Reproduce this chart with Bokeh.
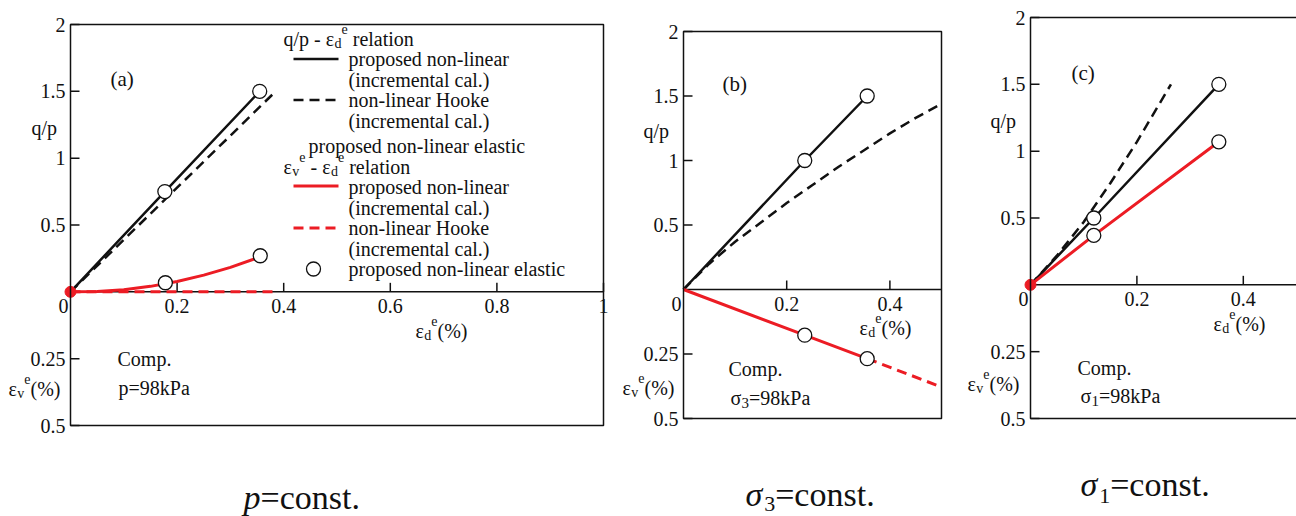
from bokeh.plotting import figure
from bokeh.layouts import row
from bokeh.models import Label, BoxAnnotation
from bokeh.embed import file_html
from bokeh.resources import INLINE

# ---------------- data ----------------
# q/p values (upper half) and eps_v^e values in % (lower half, compression positive)

# panel (a): p = const.
A_QP_PROP_X = [0.0, 0.177, 0.355]
A_QP_PROP = [0.0, 0.75, 1.50]
A_QP_HOOKE_X = [0.0, 0.385]
A_QP_HOOKE = [0.0, 1.50]
A_QP_ELAS_X = [0.177, 0.355]
A_QP_ELAS = [0.75, 1.50]
A_EV_PROP_X = [0.0, 0.05, 0.10, 0.15, 0.20, 0.25, 0.30, 0.355]
A_EV_PROP = [0.0, -0.0015, -0.008, -0.0205, -0.0385, -0.0625, -0.0915, -0.13]
A_EV_HOOKE_X = [0.0, 0.385]
A_EV_HOOKE = [0.0, 0.0]
A_EV_ELAS_X = [0.178, 0.356]
A_EV_ELAS = [-0.034, -0.135]

# panel (b): sigma3 = const.
B_QP_PROP_X = [0.0, 0.235, 0.356]
B_QP_PROP = [0.0, 1.0, 1.5]
B_QP_HOOKE_X = [0.0, 0.05, 0.10, 0.15, 0.20, 0.25, 0.30, 0.35, 0.40, 0.45, 0.50]
B_QP_HOOKE = [0.0, 0.20, 0.37, 0.52, 0.67, 0.81, 0.95, 1.08, 1.21, 1.33, 1.44]
B_QP_ELAS_X = [0.235, 0.356]
B_QP_ELAS = [1.0, 1.5]
B_EV_PROP_X = [0.0, 0.235, 0.356]
B_EV_PROP = [0.0, 0.177, 0.268]
B_EV_HOOKE_X = [0.356, 0.50]
B_EV_HOOKE = [0.268, 0.378]
B_EV_ELAS_X = [0.235, 0.356]
B_EV_ELAS = [0.177, 0.268]

# panel (c): sigma1 = const.
C_QP_PROP_X = [0.0, 0.119, 0.354]
C_QP_PROP = [0.0, 0.5, 1.5]
C_QP_HOOKE_X = [0.0, 0.05, 0.10, 0.15, 0.20, 0.264]
C_QP_HOOKE = [0.0, 0.22, 0.47, 0.76, 1.07, 1.50]
C_QP_ELAS_X = [0.119, 0.354]
C_QP_ELAS = [0.5, 1.5]
C_EV_PROP_X = [0.0, 0.119, 0.354]
C_EV_PROP = [0.0, -0.185, -0.535]
C_EV_ELAS_X = [0.119, 0.354]
C_EV_ELAS = [-0.185, -0.535]

ORIGIN_X = [0.0]
ORIGIN_EV = [0.0]

# axis ticks
X_TICKS_A = [0.2, 0.4, 0.6, 0.8, 1.0]
X_TICKS_BC = [0.2, 0.4]
QP_TICKS = [0.5, 1.0, 1.5, 2.0]
EV_TICKS = [0.25, 0.5]
EV_SCALE = 2.0   # 0.25 % of eps_v takes the height of 0.5 of q/p (drawn downward)

FONT = "Liberation Serif"
BLACK = "#111111"
RED = "#ec1c24"
H = 516
NB = "\u00a0"

CW = {' ': .25, NB: .25, '(': .333, ')': .333, '%': .833, '-': .333, '.': .25, '/': .278,
      '=': .564, 'C': .667, 'H': .722, 'P': .556, 'a': .444, 'b': .5, 'c': .444,
      'd': .5, 'e': .444, 'i': .278, 'k': .5, 'l': .278, 'm': .778, 'n': .5, 'o': .5,
      'p': .5, 'q': .5, 'r': .333, 's': .389, 't': .278, 'v': .5, 'ε': .44, 'σ': .55}


def ev(vals):
    return [-EV_SCALE * v for v in vals]


def text_w(s, size):
    return sum(CW.get(ch, 0.5) for ch in s) * size


def N(t, size=20, style="normal"):
    return (t, size, 0, style)


def SUB(t, size=14, dy=-5):
    return (t, size, dy, "normal")


def SUP(t, size=14, dy=10):
    return (t, size, dy, "normal")


def lab(p, x, y, text, size=20, align="left", baseline="middle", xo=0, yo=0, style="normal"):
    p.add_layout(Label(x=x, y=y, x_offset=xo, y_offset=yo, text=text, text_font=FONT,
                       text_font_size=f"{size}px", text_font_style=style, text_color=BLACK,
                       text_align=align, text_baseline=baseline))


def make_panel(fig_x, width, box_l, box_r, box_t, box_b, xmax, x_ticks, right_border=True):
    ppx = (box_r - box_l) / xmax
    ppy = (box_b - box_t) / 3.0
    xr = ((fig_x - box_l) / ppx, (fig_x + width - box_l) / ppx)
    yr = (2 - (H - box_t) / ppy, 2 + box_t / ppy)
    p = figure(width=width, height=H, x_range=xr, y_range=yr,
               min_border=0, x_axis_location=None, y_axis_location=None,
               toolbar_location=None, output_backend="svg")
    p.outline_line_color = None
    p.grid.visible = False
    p.background_fill_color = "white"
    p.border_fill_color = "white"

    def conv(px, py):
        return (px - box_l) / ppx, 2 - (py - box_t) / ppy

    tick_x = 9 / ppx
    tick_y = 9 / ppy
    # frame box (its left edge is the vertical axis)
    right = xmax if right_border else xmax * 1.05
    p.add_layout(BoxAnnotation(left=0, right=right, bottom=-1, top=2, fill_color=None,
                               line_color=BLACK, line_alpha=1.0, line_width=1.5))
    # horizontal axis at y = 0
    p.line([0, xmax], [0, 0], line_color=BLACK, line_width=1.5)
    # vertical-axis ticks and labels
    y_pos = [-EV_SCALE * v for v in EV_TICKS] + QP_TICKS
    y_txt = [f"{v:g}" for v in EV_TICKS] + [f"{v:g}" for v in QP_TICKS]
    p.segment(x0=[0] * len(y_pos), y0=y_pos, x1=[tick_x] * len(y_pos), y1=y_pos,
              line_color=BLACK, line_width=1.5)
    for yv, t in zip(y_pos, y_txt):
        lab(p, 0, yv, t, align="right", xo=-5)
    # horizontal-axis ticks and labels
    p.segment(x0=x_ticks, y0=[0] * len(x_ticks), x1=x_ticks, y1=[tick_y] * len(x_ticks),
              line_color=BLACK, line_width=1.5)
    for xv in x_ticks:
        lab(p, xv, 0, f"{xv:g}", align="center", yo=-14)
    lab(p, 0, 0, "0", align="center", xo=-7, yo=-14)
    return p, conv


def put_text(p, conv, px, py, parts):
    xd, yd = conv(px, py)
    off = 0.0
    for t, size, dy, style in parts:
        lab(p, xd, yd, t, size=size, xo=off, yo=dy, style=style)
        off += text_w(t, size)


def draw_series(p, qp_prop, qp_hooke, qp_elas, ev_prop, ev_hooke, ev_elas, origin):
    p.line(qp_hooke[0], qp_hooke[1], line_color=BLACK, line_width=2.5, line_dash="10 6")
    p.line(qp_prop[0], qp_prop[1], line_color=BLACK, line_width=2.5)
    if ev_hooke is not None:
        p.line(ev_hooke[0], ev(ev_hooke[1]), line_color=RED, line_width=3, line_dash="10 6")
    p.line(ev_prop[0], ev(ev_prop[1]), line_color=RED, line_width=3)
    if origin:
        p.scatter(ORIGIN_X, ev(ORIGIN_EV), size=11, fill_color=RED, line_color=RED)
    p.scatter(qp_elas[0], qp_elas[1], size=14, fill_color="white", line_color=BLACK, line_width=1.3)
    p.scatter(ev_elas[0], ev(ev_elas[1]), size=14, fill_color="white", line_color=BLACK, line_width=1.3)


def axis_titles(p, conv, qp_pos, ev_pos, ed_pos):
    put_text(p, conv, qp_pos[0], qp_pos[1], [N("q/p")])
    put_text(p, conv, ev_pos[0], ev_pos[1], [N("ε"), SUB("v"), SUP("e"), N("(%)")])
    put_text(p, conv, ed_pos[0], ed_pos[1], [N("ε"), SUB("d"), SUP("e"), N("(%)")])


# ---------------- panel (a) ----------------
pa, ca = make_panel(0, 620, 70, 603, 24, 425, 1.0, X_TICKS_A)
draw_series(pa, (A_QP_PROP_X, A_QP_PROP), (A_QP_HOOKE_X, A_QP_HOOKE), (A_QP_ELAS_X, A_QP_ELAS),
            (A_EV_PROP_X, A_EV_PROP), (A_EV_HOOKE_X, A_EV_HOOKE), (A_EV_ELAS_X, A_EV_ELAS), True)
axis_titles(pa, ca, (31, 127), (8, 388), (415, 330))
put_text(pa, ca, 110, 78, [N("(a)", 21)])
put_text(pa, ca, 117, 358, [N("Comp.")])
put_text(pa, ca, 118, 387, [N("p=98kPa")])
put_text(pa, ca, 243, 497, [N("p", 34, "italic"), N("=const.", 34)])

# legend of panel (a)
LEG_TEXT_X = 348
put_text(pa, ca, 283, 38, [N("q/p - ε"), SUB("d"), SUP("e"), N(NB + "relation")])
put_text(pa, ca, LEG_TEXT_X, 58.5, [N("proposed non-linear")])
put_text(pa, ca, LEG_TEXT_X, 79, [N("(incremental cal.)")])
put_text(pa, ca, LEG_TEXT_X, 99.5, [N("non-linear Hooke")])
put_text(pa, ca, LEG_TEXT_X, 120, [N("(incremental cal.)")])
put_text(pa, ca, 308, 145, [N("proposed non-linear elastic")])
put_text(pa, ca, 283, 166, [N("ε"), SUB("v"), SUP("e"), N(NB + "-" + NB + "ε"), SUB("d"), SUP("e"),
                            N(NB + "relation")])
put_text(pa, ca, LEG_TEXT_X, 186.5, [N("proposed non-linear")])
put_text(pa, ca, LEG_TEXT_X, 207, [N("(incremental cal.)")])
put_text(pa, ca, LEG_TEXT_X, 227.5, [N("non-linear Hooke")])
put_text(pa, ca, LEG_TEXT_X, 248, [N("(incremental cal.)")])
put_text(pa, ca, LEG_TEXT_X, 268.5, [N("proposed non-linear elastic")])


def leg_line(py, color, dash, width):
    (xa0, yd), (xa1, _) = ca(293, py), ca(338, py)
    pa.line([xa0, xa1], [yd, yd], line_color=color, line_width=width, line_dash=dash)


leg_line(58.5, BLACK, "solid", 2.5)
leg_line(99.5, BLACK, "10 6", 2.5)
leg_line(185.5, RED, "solid", 3)
leg_line(227.5, RED, "10 6", 3)
lx, ly = ca(313, 268.5)
pa.scatter([lx], [ly], size=14, fill_color="white", line_color=BLACK, line_width=1.3)

# ---------------- panel (b) ----------------
pb, cb = make_panel(620, 345, 683, 941, 31, 418, 0.5, X_TICKS_BC)
draw_series(pb, (B_QP_PROP_X, B_QP_PROP), (B_QP_HOOKE_X, B_QP_HOOKE), (B_QP_ELAS_X, B_QP_ELAS),
            (B_EV_PROP_X, B_EV_PROP), (B_EV_HOOKE_X, B_EV_HOOKE), (B_EV_ELAS_X, B_EV_ELAS), False)
axis_titles(pb, cb, (643, 130), (622, 387), (859, 327))
put_text(pb, cb, 722, 83, [N("(b)", 21)])
put_text(pb, cb, 728, 368, [N("Comp.")])
put_text(pb, cb, 730, 397, [N("σ"), SUB("3", 15, -5), N("=98kPa")])
put_text(pb, cb, 745, 494, [N("σ", 34, "italic"), ("3", 22, -9, "normal"), N("=const.", 34)])

# ---------------- panel (c) ----------------
pc, cc = make_panel(965, 331, 1030, 1296, 17, 418, 0.5, X_TICKS_BC, right_border=False)
draw_series(pc, (C_QP_PROP_X, C_QP_PROP), (C_QP_HOOKE_X, C_QP_HOOKE), (C_QP_ELAS_X, C_QP_ELAS),
            (C_EV_PROP_X, C_EV_PROP), None, (C_EV_ELAS_X, C_EV_ELAS), True)
axis_titles(pc, cc, (990, 120), (967, 383), (1213, 323))
put_text(pc, cc, 1071, 72, [N("(c)", 21)])
put_text(pc, cc, 1077, 367, [N("Comp.")])
put_text(pc, cc, 1080, 395, [N("σ"), SUB("1", 15, -5), N("=98kPa")])
put_text(pc, cc, 1080, 484, [N("σ", 34, "italic"), ("1", 22, -11, "normal"), N("=const.", 34)])

layout = row(pa, pb, pc, spacing=0)
open("out.html", "w").write(file_html(layout, INLINE))
